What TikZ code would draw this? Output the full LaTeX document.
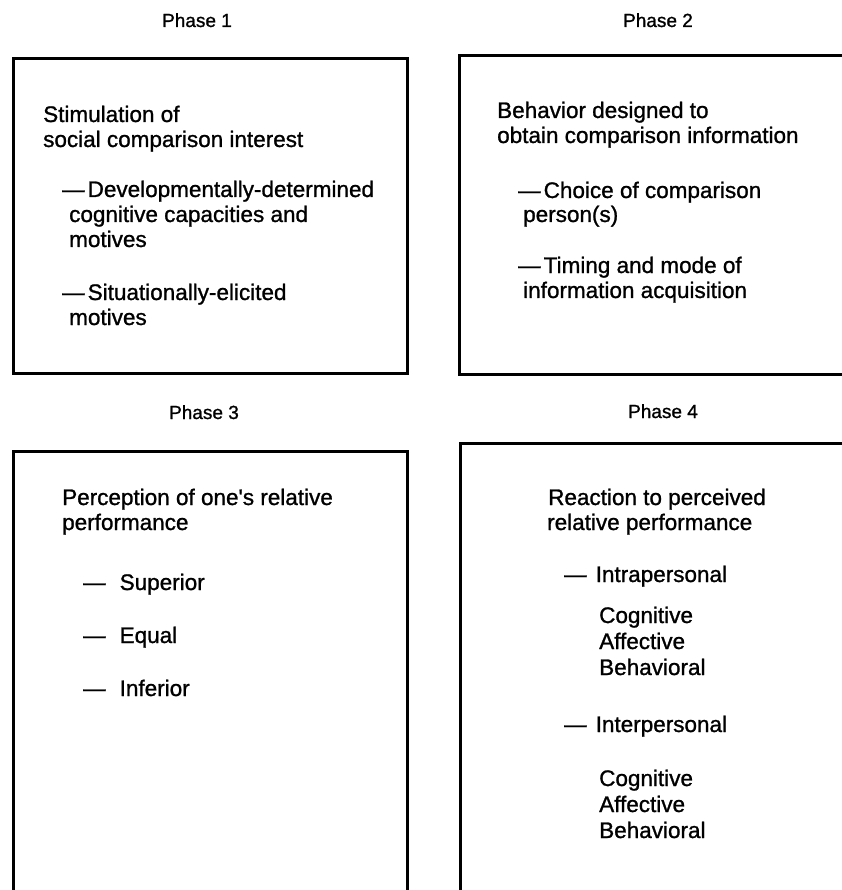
\documentclass[tikz,border=0pt]{standalone}
\usepackage{fontspec}
\setmainfont{Liberation Sans}
\newfontfamily\medfont[FakeBold=1.1]{Liberation Sans}
\begin{document}
\begin{tikzpicture}[x=1pt,y=-1pt,
  phasebox/.style={draw=black, line width=2.8pt, anchor=north west, inner sep=0pt},
  body/.style={anchor=base west, inner sep=0pt, font=\medfont\fontsize{22.5}{25}\selectfont},
  phaselabel/.style={anchor=base, inner sep=0pt, font=\medfont\fontsize{19}{22}\selectfont}]
\useasboundingbox (0,0) rectangle (841,890);
% boxes
\node[phasebox, minimum width=394pt, minimum height=315pt] (box1) at (12,57) {};
\node[phasebox, minimum width=400pt, minimum height=319pt] (box2) at (458,54) {};
\node[phasebox, minimum width=394pt, minimum height=460pt] (box3) at (12,450) {};
\node[phasebox, minimum width=400pt, minimum height=470pt] (box4) at (459,442) {};
% phase labels
\node[phaselabel] (ph1) at (197,27) {Phase 1};
\node[phaselabel] (ph2) at (658,27) {Phase 2};
\node[phaselabel] (ph3) at (204,419) {Phase 3};
\node[phaselabel] (ph4) at (663,418) {Phase 4};
% box 1
\node[body] (a1) at (43,122) {Stimulation of};
\node[body] (a2) at (43,147) {social comparison interest};
\node[body] (a3) at (62,197) {—\hspace{3pt}Developmentally-determined};
\node[body] (a4) at (69,222) {cognitive capacities and};
\node[body] (a5) at (69,247) {motives};
\node[body] (a6) at (62,300) {—\hspace{3pt}Situationally-elicited};
\node[body] (a7) at (69,325) {motives};
% box 2
\node[body] (c1) at (497,118) {Behavior designed to};
\node[body] (c2) at (497,143) {obtain comparison information};
\node[body] (c3) at (518,198) {—\hspace{3pt}Choice of comparison};
\node[body] (c4) at (523,222) {person(s)};
\node[body] (c5) at (518,273) {—\hspace{3pt}Timing and mode of};
\node[body] (c6) at (523,298) {information acquisition};
% box 3
\node[body] (d1) at (62,505) {Perception of one's relative};
\node[body] (d2) at (62,530) {performance};
\node[body] (d3) at (83,590) {—\hspace{14pt}Superior};
\node[body] (d4) at (83,643) {—\hspace{14pt}Equal};
\node[body] (d5) at (83,696) {—\hspace{14pt}Inferior};
% box 4
\node[body] (e1) at (548,505) {Reaction to perceived};
\node[body] (e2) at (547,530) {relative performance};
\node[body] (e3) at (564,582) {—\hspace{9pt}Intrapersonal};
\node[body] (e4) at (599,623) {Cognitive};
\node[body] (e5) at (599,649) {Affective};
\node[body] (e6) at (599,675) {Behavioral};
\node[body] (e7) at (564,732) {—\hspace{9pt}Interpersonal};
\node[body] (e8) at (599,786) {Cognitive};
\node[body] (e9) at (599,812) {Affective};
\node[body] (e10) at (599,838) {Behavioral};
\end{tikzpicture}
\end{document}
